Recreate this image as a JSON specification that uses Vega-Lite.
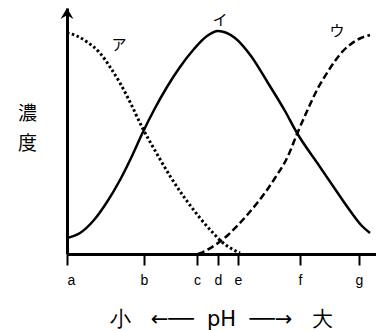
{
  "$schema": "https://vega.github.io/schema/vega-lite/v6.json",
  "width": 309,
  "height": 246,
  "autosize": {"type": "none"},
  "padding": {"left": 67, "top": 8, "right": 0, "bottom": 77},
  "background": "white",
  "config": {"view": {"stroke": null}, "font": "Noto Sans CJK JP"},
  "datasets": {
    "curves": [
      {"s": "ア", "x": 0, "y": 221}, {"s": "ア", "x": 10, "y": 218}, {"s": "ア", "x": 20, "y": 212},
      {"s": "ア", "x": 33, "y": 201}, {"s": "ア", "x": 43, "y": 187}, {"s": "ア", "x": 53, "y": 171},
      {"s": "ア", "x": 63, "y": 152}, {"s": "ア", "x": 75, "y": 127}, {"s": "ア", "x": 90, "y": 100},
      {"s": "ア", "x": 103, "y": 78}, {"s": "ア", "x": 117, "y": 57}, {"s": "ア", "x": 133, "y": 36},
      {"s": "ア", "x": 147, "y": 20}, {"s": "ア", "x": 155, "y": 12}, {"s": "ア", "x": 165, "y": 5},
      {"s": "ア", "x": 173, "y": 1},
      {"s": "イ", "x": 0, "y": 16}, {"s": "イ", "x": 13, "y": 21}, {"s": "イ", "x": 27, "y": 34},
      {"s": "イ", "x": 40, "y": 52}, {"s": "イ", "x": 53, "y": 74}, {"s": "イ", "x": 65, "y": 98},
      {"s": "イ", "x": 75, "y": 120}, {"s": "イ", "x": 87, "y": 144}, {"s": "イ", "x": 100, "y": 167},
      {"s": "イ", "x": 113, "y": 187}, {"s": "イ", "x": 127, "y": 205}, {"s": "イ", "x": 140, "y": 218},
      {"s": "イ", "x": 151, "y": 223}, {"s": "イ", "x": 168, "y": 216}, {"s": "イ", "x": 184, "y": 198},
      {"s": "イ", "x": 201, "y": 171}, {"s": "イ", "x": 218, "y": 143}, {"s": "イ", "x": 230, "y": 121},
      {"s": "イ", "x": 251, "y": 90}, {"s": "イ", "x": 268, "y": 65}, {"s": "イ", "x": 284, "y": 42},
      {"s": "イ", "x": 295, "y": 28}, {"s": "イ", "x": 303, "y": 21},
      {"s": "ウ", "x": 131, "y": 0}, {"s": "ウ", "x": 140, "y": 4}, {"s": "ウ", "x": 151, "y": 11},
      {"s": "ウ", "x": 161, "y": 19}, {"s": "ウ", "x": 171, "y": 29}, {"s": "ウ", "x": 181, "y": 40},
      {"s": "ウ", "x": 191, "y": 52}, {"s": "ウ", "x": 200, "y": 64}, {"s": "ウ", "x": 208, "y": 76},
      {"s": "ウ", "x": 221, "y": 98}, {"s": "ウ", "x": 230, "y": 120}, {"s": "ウ", "x": 241, "y": 145},
      {"s": "ウ", "x": 251, "y": 166}, {"s": "ウ", "x": 260, "y": 181}, {"s": "ウ", "x": 268, "y": 193},
      {"s": "ウ", "x": 276, "y": 203}, {"s": "ウ", "x": 284, "y": 210}, {"s": "ウ", "x": 294, "y": 216},
      {"s": "ウ", "x": 303, "y": 219}
    ],
    "labels": [
      {"t": "ア", "x": 52, "y": 209},
      {"t": "イ", "x": 153, "y": 234},
      {"t": "ウ", "x": 270, "y": 223}
    ],
    "arrow": [{"x": 0, "y": 239.5}]
  },
  "encoding": {
    "x": {
      "field": "x", "type": "quantitative",
      "scale": {"domain": [0, 309], "nice": false, "zero": false},
      "axis": {
        "values": [0, 77, 130, 151, 171, 233, 292],
        "labelExpr": "{'0':'a','77':'b','130':'c','151':'d','171':'e','233':'f','292':'g'}[datum.value]",
        "grid": false,
        "domainColor": "black", "domainWidth": 3,
        "tickColor": "black", "tickWidth": 2, "tickSize": 11,
        "labelFont": "Liberation Sans", "labelFontSize": 14, "labelColor": "black", "labelPadding": 8,
        "title": "小\u00a0\u00a0\u00a0←──\u00a0\u00a0pH\u00a0\u00a0──→\u00a0\u00a0\u00a0大",
        "titleFont": "DejaVu Sans", "titleFontSize": 21, "titleFontWeight": "normal",
        "titleColor": "black", "titleX": 154, "titleY": 71, "titleBaseline": "alphabetic"
      }
    },
    "y": {
      "field": "y", "type": "quantitative",
      "scale": {"domain": [0, 246], "nice": false, "zero": false},
      "axis": {
        "values": [], "ticks": false, "labels": false, "grid": false,
        "domainColor": "black", "domainWidth": 3,
        "title": ["濃", "度"], "titleAngle": 0,
        "titleFont": "Noto Sans CJK JP", "titleFontSize": 19, "titleFontWeight": "normal",
        "titleColor": "black", "titleX": -40, "titleY": 105, "titleAlign": "center",
        "titleBaseline": "middle", "titleLineHeight": 30
      }
    }
  },
  "layer": [
    {
      "data": {"name": "curves"},
      "transform": [{"filter": "datum.s === 'イ'"}],
      "mark": {"type": "line", "color": "black", "strokeWidth": 2.5, "interpolate": "monotone"}
    },
    {
      "data": {"name": "curves"},
      "transform": [{"filter": "datum.s === 'ア'"}],
      "mark": {"type": "line", "color": "black", "strokeWidth": 3, "strokeDash": [2.5, 2.5], "interpolate": "monotone"}
    },
    {
      "data": {"name": "curves"},
      "transform": [{"filter": "datum.s === 'ウ'"}],
      "mark": {"type": "line", "color": "black", "strokeWidth": 2.5, "strokeDash": [7, 3.5], "interpolate": "monotone"}
    },
    {
      "data": {"name": "labels"},
      "mark": {"type": "text", "font": "Noto Sans CJK JP", "fontSize": 15, "color": "black"},
      "encoding": {"text": {"field": "t"}}
    },
    {
      "data": {"name": "arrow"},
      "mark": {"type": "point", "shape": "M0,-1 L1,0.7 L0,0.1 L-1,0.7 Z", "filled": true, "color": "black", "size": 169, "opacity": 1, "clip": false, "strokeWidth": 0}
    }
  ]
}
